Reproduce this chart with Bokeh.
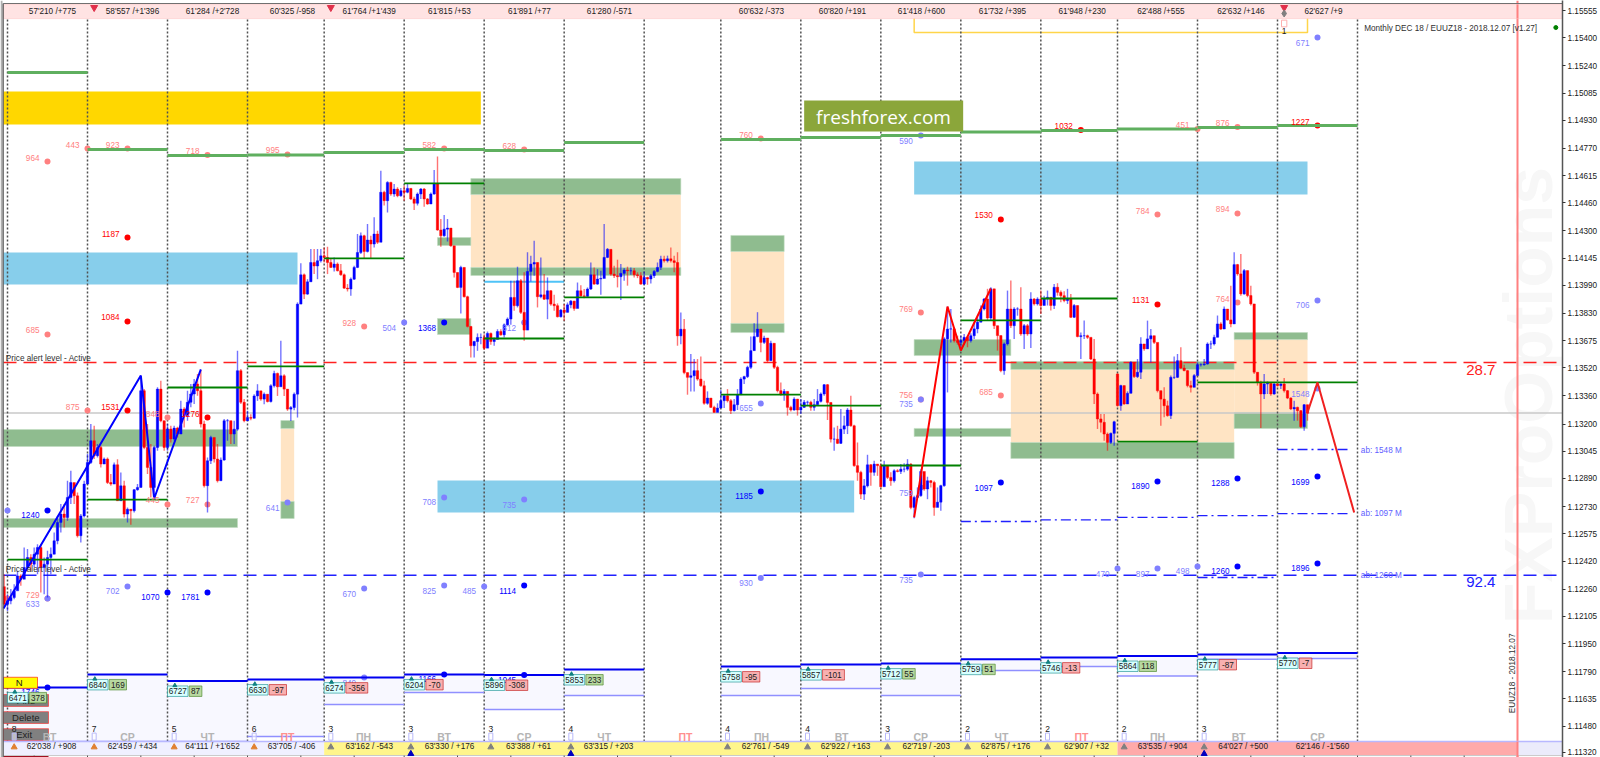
from math import pi
from bokeh.plotting import figure
from bokeh.models import ColumnDataSource, FixedTicker, PrintfTickFormatter, Label
from bokeh.core.properties import value
from bokeh.embed import file_html
from bokeh.resources import INLINE

# ---------- price data, in 1e-5 above 1.0 (13550 = 1.13550); first bar has index -1 ----------
CLOSE = [12174,12193,12212,12250,12335,12316,12383,12440,12402,12459,12497,12383,12402,12440,12459,12535,12640,12687,12668,12782,12867,12791,12564,12677,12858,
12981,13105,13020,13067,12972,13001,12867,12858,12968,12763,12848,12687,12715,12706,12826,12839,13390,13067,12953,12839,13067,13399,13219,13067,
13172,13115,13177,13143,13285,13248,13324,13371,13428,13390,13200,12849,12991,13124,13001,12877,12995,13219,13219,13143,13171,13504,13324,13219,
13237,13233,13360,13389,13342,13370,13328,13418,13488,13412,13475,13399,13285,13294,13370,13883,14050,13940,14010,14120,14100,14130,14158,
14149,14120,14092,14111,14073,14050,13974,13969,14025,14092,14177,14272,14183,14248,14225,14282,14235,14520,14472,14576,14510,14538,14500,14529,
14520,14542,14482,14457,14510,14538,14482,14453,14510,14567,14305,14272,14310,14316,14215,14063,13978,14092,13925,13756,13646,13670,13693,13693,
13632,13716,13670,13682,13727,13708,13765,13798,13921,13874,14016,13836,13735,14069,14111,14120,13925,13936,13911,13959,13883,13874,13811,13849,
13836,13879,13900,13858,13959,13930,13927,13969,14050,13997,14026,14029,14149,14195,14054,14045,14039,14058,14077,14073,14073,14050,14045,13997,
14035,14026,14045,14069,14092,14139,14130,14141,14130,14120,13702,13740,13493,13466,13475,13504,13456,13418,13318,13348,13295,13266,13291,
13333,13361,13333,13276,13310,13367,13456,13470,13523,13618,13698,13741,13665,13690,13561,13660,13523,13390,13371,13386,13295,13280,13342,13280,
13295,13324,13324,13295,13310,13329,13371,13424,13323,13114,13114,13090,13171,13190,13280,13190,12963,12925,12801,12848,12968,12925,12972,12963,
12843,12963,12896,12877,12934,12930,12943,12943,12972,12725,12782,12792,12930,12830,12877,12867,12725,12755,12849,13685,13741,13742,13675,13665,
13675,13694,13675,13703,13742,13780,13855,13912,13804,13970,13760,13704,13504,13656,13855,13760,13855,13855,13713,13760,13713,13912,13884,13912,
13875,13912,13922,13875,13979,13950,13931,13903,13912,13808,13875,13698,13703,13703,13694,13570,13371,13229,13210,13143,13095,13147,13213,
13305,13419,13314,13375,13551,13470,13495,13656,13628,13685,13703,13665,13390,13342,13304,13248,13466,13466,13561,13519,13504,13419,13409,13476,
13538,13538,13542,13656,13656,13694,13770,13741,13855,13793,13770,14108,14055,13941,14074,13932,13884,13495,13438,13371,13428,13432,13371,
13428,13419,13428,13390,13348,13286,13295,13276,13185,13310,13261]
HIGH = [12345,12231,12260,12288,12364,12345,12497,12488,12459,12497,12516,12516,12440,12478,12497,12582,12677,12744,12744,12877,12934,12858,12810,12687,12877,
13029,13200,13190,13086,13076,13010,13010,12915,12981,13000,12924,12877,12725,12716,12830,12858,13475,13400,13200,13086,13076,13409,13447,13219,
13200,13190,13190,13185,13333,13295,13390,13428,13457,13485,13508,13219,13010,13133,13124,13086,13010,13228,13228,13219,13219,13618,13513,13342,
13275,13256,13370,13427,13389,13379,13370,13427,13503,13493,13674,13484,13398,13303,13379,13893,14115,14058,14025,14197,14197,14197,14197,
14206,14210,14140,14149,14120,14111,14058,13997,14035,14101,14282,14291,14278,14339,14272,14377,14301,14643,14529,14582,14580,14567,14548,14544,
14557,14567,14544,14495,14519,14544,14544,14487,14519,14647,14723,14367,14390,14367,14316,14177,14063,14101,14092,13931,13756,13674,13716,13716,
13712,13727,13721,13693,13740,13740,13773,13807,14016,14016,14096,14026,14064,14178,14159,14244,14120,14149,14054,14035,13963,13936,13887,13855,
13883,13892,13906,13902,14006,13991,13969,13978,14120,14092,14082,14073,14339,14202,14191,14101,14136,14111,14088,14096,14092,14088,14064,14064,
14069,14039,14054,14077,14120,14159,14159,14159,14206,14159,14178,13835,13798,13494,13599,13570,13570,13584,13447,13386,13343,13304,13318,
13394,13371,13399,13343,13343,13399,13466,13475,13532,13698,13774,13837,13741,13703,13690,13675,13660,13532,13437,13399,13386,13304,13352,13343,
13343,13337,13333,13333,13343,13399,13380,13428,13428,13323,13181,13190,13285,13247,13291,13361,13196,13095,12934,12887,13025,12972,12991,12972,
12972,12991,12963,12925,12943,12943,12972,12976,13000,12976,12792,12839,12943,12919,12900,12881,12877,12839,12854,13694,13869,13855,13751,13703,
13703,13713,13703,13717,13780,13808,13875,13918,13970,13979,13970,13760,13704,13665,13960,14017,13865,13865,13979,13770,13770,13950,13918,13922,
13960,13931,13960,13922,13998,14002,13960,13956,13970,13941,13884,13875,13722,13789,13709,13660,13685,13380,13257,13257,13152,13152,13219,
13489,13424,13419,13386,13557,13551,13570,13694,13656,13789,13741,13703,13656,13390,13409,13333,13476,13584,13599,13637,13538,13508,13447,13485,
13551,13546,13570,13665,13675,13709,13818,13780,13869,13855,13988,14178,14112,14169,14083,14074,13988,13884,13495,13447,13485,13443,13432,
13437,13437,13432,13462,13394,13352,13333,13299,13280,13314,13310]
LOW = [12155,12136,12174,12202,12260,12279,12326,12383,12364,12383,12345,12240,12231,12212,12345,12459,12516,12582,12611,12649,12744,12744,12554,12525,12668,
12868,12972,13001,13010,12953,12991,12858,12849,12892,12763,12782,12668,12640,12626,12696,12820,12839,13057,12915,12782,12782,13048,13210,13048,
13048,13095,13105,13124,13143,13181,13219,13295,13314,13361,13181,12839,12696,12972,12981,12867,12877,12991,13105,13086,13086,13162,13314,13210,
13218,13222,13231,13332,13332,13313,13323,13323,13408,13360,13417,13360,13275,13218,13279,13237,13887,13912,13936,14010,14054,14025,14120,
14120,14054,14088,14069,14069,14045,13969,13955,13930,14020,14088,14168,14145,14177,14145,14206,14225,14254,14444,14405,14500,14495,14491,14495,
14472,14514,14476,14419,14444,14482,14438,14449,14457,14506,14301,14210,14267,14240,14210,14035,13974,13830,13921,13750,13579,13579,13617,13655,
13621,13655,13651,13646,13682,13703,13693,13760,13765,13845,13864,13826,13674,13740,14012,14045,13864,13917,13906,13797,13874,13845,13807,13807,
13788,13836,13860,13845,13889,13925,13917,13921,13963,13993,13993,13936,14031,14145,14045,14031,13978,13906,14016,13988,14050,14035,14031,13993,
13993,13993,14001,14031,14064,14077,14120,14120,14120,14064,13646,13655,13484,13367,13386,13386,13447,13413,13310,13310,13291,13266,13276,
13304,13291,13323,13257,13272,13280,13367,13428,13462,13513,13618,13694,13609,13656,13551,13561,13513,13380,13361,13333,13248,13272,13276,13248,
13257,13291,13304,13276,13276,13310,13323,13361,13223,13095,13048,13086,13086,13143,13143,13185,12957,12877,12773,12767,12839,12848,12905,12905,
12839,12925,12887,12848,12867,12925,12915,12925,12934,12715,12664,12782,12786,12820,12772,12839,12678,12740,12706,12843,13380,13665,13665,13652,
13618,13652,13637,13665,13685,13717,13780,13846,13789,13789,13741,13618,13495,13481,13647,13747,13685,13817,13703,13627,13703,13633,13875,13875,
13827,13884,13875,13846,13855,13931,13893,13893,13884,13804,13804,13694,13570,13685,13685,13565,13314,13172,13152,13105,13048,13086,13076,
13299,13276,13310,13367,13375,13462,13462,13457,13618,13628,13551,13656,13380,13190,13238,13242,13229,13457,13462,13513,13500,13409,13380,13437,
13513,13527,13532,13538,13627,13647,13694,13736,13741,13789,13751,13774,14045,13931,13937,13922,13875,13485,13419,13177,13342,13371,13361,
13367,13413,13400,13380,13342,13280,13219,13219,13177,13162,13219]
OPEN_GAPS = {333: 13485}

# ---------- session (day) boundaries, bar index ----------
DAY_BARS = [0,24,48,72,95,119,143,167,191,214,238,262,286,310,333,357,381,405]
LEVEL_MID   = [12428,12770,13408,13528,14143,14570,13687,13921,None,13368,13305,12964,13790,13915,13100,13437,13437]
LEVEL_UPPER = [15202,14763,14729,14732,14746,14763,14758,14803,None,14820,14832,14843,14863,14872,14880,14889,14900]
LEVEL_BLUE  = [11700,11774,11737,11745,11756,11774,11771,11802,None,11819,11830,11836,11861,11870,11879,11888,11896]
LEVEL_BLUE2 = [11392,11392,11392,11420,11603,11671,11574,11654,None,11654,11694,11654,11796,11819,11765,11861,11865]
BOX_A = [6471,6840,6727,6630,6274,6204,5896,5853,None,5758,5857,5712,5759,5746,5864,5777,5770]
BOX_B = [378,169,87,-97,-356,-70,-308,233,None,-95,-101,55,51,-13,118,-87,-7]
COUNTS = ["8","7","5","6","3","3","3","4",None,"4","4","3","2","2","2","3",None]

TOP_TEXT = ["57'210 /+775","58'557 /+1'396","61'284 /+2'728","60'325 /-958","61'764 /+1'439","61'815 /+53","61'891 /+77","61'280 /-571",
            "60'632 /-373","60'820 /+191","61'418 /+600","61'732 /+395","61'948 /+230","62'488 /+555","62'632 /+146","62'627 /+9"]
TOP_BAR = [13.5,37.5,61.5,85.5,108.5,132.6,156.6,180.6,226.2,250.5,274.2,298.5,322.4,346,370,394.8]
BOT_TEXT = ["62'038 / +908","62'459 / +434","64'111 / +1'652","63'705 / -406","63'162 / -543","63'330 / +176","63'388 / +61","63'315 / +203",
            "62'761 / -549","62'922 / +163","62'719 / -203","62'875 / +176","62'907 / +32","63'535 / +904","64'027 / +500","62'146 / -1'560"]
BOT_BAR = [13.2,37.5,61.5,85.2,108.5,132.6,156.3,180.3,227.4,251.4,275.6,299.4,323.7,346.5,370.7,394.5]
DAY_NAME = ["ВТ","СР","ЧТ","ПТ","ПН","ВТ","СР","ЧТ","ПТ","ПН","ВТ","СР","ЧТ","ПТ","ПН","ВТ","СР"]
DAY_NAME_BAR = [12.6,36,60,84,106.8,131,155,179,203.4,226.2,250.2,274,298.2,322.2,345,369.3,393]

# ---------- zones: bar start, bar end, price low, price high ----------
GOLD = [(-1.2,142,14906,15094)]
SKY = [(-1.2,87,13995,14177),(129,254,12696,12878),(272,390,14507,14695)]
GREEN = [(-1.2,69,13072,13169),(-1.2,69,12611,12662),(82,86,13175,13220),(82,86,12662,12759),(129,139,14217,14262),(129,139,13710,13801),
         (139,202,14507,14598),(139,202,14046,14091),(217,233,14183,14274),(217,233,13721,13773),(272,301,13590,13681),(272,301,13129,13175),
         (301,368,13511,13556),(301,368,13004,13095),(368,390,13681,13721),(368,390,13175,13266)]
TAN = [(82,86,12759,13175),(139,202,14091,14507),(217,233,13773,14183),(301,368,13095,13511),(368,390,13266,13681)]

# ---------- dots: bar, price, label ----------
DOTS_LR = [(12,14695,"964"),(24,14769,"443"),(36,14769,"923"),(60,14732,"718"),(84,14735,"995"),(131,14769,"582"),(155,14763,"628"),(226,14826,"760"),
           (357,14880,"451"),(369,14892,"876"),(345,14393,"784"),(369,14399,"894"),(369,13892,"764"),(274,13835,"769"),(274,13340,"756"),(298,13362,"685"),
           (24,13277,"875"),(48,13237,"848"),(48,12742,"445"),(60,12742,"727"),(107,13755,"928"),(12,12206,"729"),(0,12206,""),(12,13710,"685")]
DOTS_R = [(36,14262,"1187"),(36,13784,"1084"),(322,14874,"1032"),(393,14900,"1227"),(298,14365,"1530"),(345,13881,"1131"),(36,13277,"1531"),(60,13237,"1276")]
DOTS_LB = [(274,14843,"590"),(393,15401,"671"),(393,13904,"706"),(274,13340,"735"),(274,12838,"759"),(393,13402,"1548"),(357,12389,"498"),(345,12377,"897"),
           (333,12377,"470"),(274,12343,"735"),(226,12323,"930"),(143,12275,"485"),(131,12280,"825"),(107,12263,"670"),(36,12275,"702"),(84,12753,"641"),
           (119,13778,"504"),(155,13778,"812"),(131,12782,"708"),(155,12770,"735"),(226,13317,"655"),(12,12206,"633"),(0,12708,""),(107,11756,"849")]
DOTS_B = [(131,13778,"1368"),(226,12816,"1185"),(298,12867,"1097"),(345,12873,"1890"),(369,12890,"1288"),(393,12901,"1699"),(393,12406,"1896"),(369,12389,"1260"),
          (155,12280,"1114"),(60,12241,"1781"),(48,12241,"1070"),(12,12708,"1240"),(12,11700,"1746"),(131,11774,"1166"),(155,11771,"1045")]

ZIG_BLUE = ([-1.2,40,44,58],[12149,13476,12776,13511])
ZIG_RED1 = ([272,282,286,295],[12668,13869,13619,13972])
ZIG_RED2 = ([390,393,404],[13266,13437,12696])
AB_SEGS = [(286,310,12645),(310,333,12654),(333,357,12669),(357,381,12679),(381,403,12690),(381,403,13055),(357,381,12326)]
AB_TEXT = [("ab: 1548 M",13049),("ab: 1097 M",12690),("ab: 1260 M",12337)]
Y_TICKS = [1.15555,1.15400,1.15240,1.15085,1.14930,1.14770,1.14615,1.14460,1.14300,1.14145,1.13990,1.13830,1.13675,1.13520,
           1.13360,1.13200,1.13045,1.12890,1.12730,1.12575,1.12420,1.12260,1.12105,1.11950,1.11790,1.11635,1.11480,1.11332]
ALERT_RED, ALERT_BLUE, LAST_PRICE = 13550, 12339, 13263

FONT = "Liberation Sans"
FS = 8.2
def P(v): return 1 + v / 1e5
BARS_PER_PX = 1 / 3.3333     # 80 px per 24-bar session
V_PER_PX = 5.695             # price units per pixel
RIGHT_BAR = 466.5
LEFT_BAR = -2.1

p = figure(width=1600, height=757, x_range=(LEFT_BAR, RIGHT_BAR), y_range=(1.11301, 1.15612),
           x_axis_type=None, y_axis_location="right", toolbar_location=None, output_backend="svg",
           min_border_left=0, min_border_top=0, min_border_bottom=0, min_border_right=38,
           background_fill_color="white", border_fill_color="white", outline_line_color=None)
p.grid.visible = False
ax = p.yaxis[0]
ax.ticker = FixedTicker(ticks=Y_TICKS)
ax.formatter = PrintfTickFormatter(format="%.5f")
ax.major_label_overrides = {1.11332: "1.11320"}
ax.major_label_text_font = FONT
ax.major_label_text_font_size = f"{FS}px"
ax.major_label_text_color = "#202020"
ax.major_tick_in = 0; ax.major_tick_out = 3; ax.minor_tick_out = 0; ax.minor_tick_in = 0
ax.major_label_standoff = 2
ax.axis_line_color = "#555555"; ax.major_tick_line_color = "#333333"; ax.axis_line_width = 1.5

def quads(rows, color, alpha=1.0, line=None):
    d = dict(l=[r[0] for r in rows], r=[r[1] for r in rows], b=[P(r[2]) for r in rows], t=[P(r[3]) for r in rows])
    p.quad(left="l", right="r", bottom="b", top="t", source=ColumnDataSource(d), fill_color=color, fill_alpha=alpha,
           line_color=line if line else color, line_alpha=0.6 if line else 0, line_width=1)

def texts(xs, ys, labels, color="#202020", size=FS, align="center", base="middle", bold=False, font=FONT, dx=None, dy=None, angle=0):
    d = dict(x=xs, y=[P(v) for v in ys], t=labels, dx=dx or [0]*len(xs), dy=dy or [0]*len(xs))
    p.text(x="x", y="y", text="t", x_offset="dx", y_offset="dy", source=ColumnDataSource(d), text_color=color,
           text_font=value(font), text_font_size=f"{size}px", text_align=align, text_baseline=base,
           text_font_style="bold" if bold else "normal", angle=angle)

# watermark
texts([456], [13363], ["FXProOptions"], color="#F7F7F7", size=68, font="Liberation Sans", bold=True, angle=pi/2)

# zones
quads(GOLD, "#FFD700")
quads(SKY, "#87CEEB")
quads(TAN, "#FFE4C4")
quads(GREEN, "#8FBC8F", line="#C0DCC0")
p.segment([143], [P(14010)], [167], [P(14010)], line_color="#4FC3F7", line_width=2)

# lavender session panels
for i, (a, b) in enumerate(zip(DAY_BARS[:-1], DAY_BARS[1:])):
    if LEVEL_BLUE[i] is None: continue
    left = -1.2 if i == 0 else a
    p.quad(left=left, right=b, bottom=P(LEVEL_BLUE2[i]), top=P(LEVEL_BLUE[i]), fill_color="#F8F8FF", line_alpha=0)

# current price, alert levels
p.segment([-1.2], [P(LAST_PRICE)], [RIGHT_BAR], [P(LAST_PRICE)], line_color="#C8C8C8", line_width=1.5)
p.segment([-1.2], [P(ALERT_RED)], [RIGHT_BAR], [P(ALERT_RED)], line_color="#FF2020", line_width=1.5, line_dash="13 7")
p.segment([-1.2], [P(ALERT_BLUE)], [RIGHT_BAR], [P(ALERT_BLUE)], line_color="#2020FF", line_width=1.5, line_dash="13 7")

# yellow frame
p.line([272, 272, 390, 390], [P(15580), P(15430), P(15430), P(15580)], line_color="#FFD54A", line_width=1.5)

# session dividers
p.segment(DAY_BARS, [P(11392)]*18, DAY_BARS, [P(15509)]*18, line_color="#505050", line_width=1.5, line_dash="2 2")

# red vertical
p.segment([453], [P(11301)], [453], [P(15612)], line_color="#FF8080", line_width=2)

# dots
for rows, col in ((DOTS_LR, "#FF8080"), (DOTS_R, "#FF0000"), (DOTS_LB, "#8080FF"), (DOTS_B, "#0000FF")):
    p.scatter([r[0] for r in rows], [P(r[1]) for r in rows], size=6, color=col, line_alpha=0)

# candles
n = len(CLOSE)
assert n == len(HIGH) == len(LOW), (n, len(HIGH), len(LOW))
idx = list(range(-1, n - 1))
opens = [CLOSE[0] + 100] + CLOSE[:-1]
opens = [OPEN_GAPS.get(i, o) for i, o in zip(idx, opens)]
cols = ["#0000FF" if c >= o else "#FF0000" for c, o in zip(CLOSE, opens)]
src = ColumnDataSource(dict(x=idx, o=[P(v) for v in opens], c=[P(v) for v in CLOSE], h=[P(v) for v in HIGH], l=[P(v) for v in LOW], col=cols))
p.segment(x0="x", y0="l", x1="x", y1="h", source=src, line_color="col", line_width=1.4, line_alpha=0.55)
p.vbar(x="x", bottom="o", top="c", width=0.72, source=src, fill_color="col", line_color="col", line_width=0.4)

# green daily levels
for i, (a, b) in enumerate(zip(DAY_BARS[:-1], DAY_BARS[1:])):
    if LEVEL_MID[i] is not None:
        p.segment([a], [P(LEVEL_MID[i])], [b], [P(LEVEL_MID[i])], line_color="#008000", line_width=1.8)
    if LEVEL_UPPER[i] is not None:
        p.segment([a], [P(LEVEL_UPPER[i])], [b], [P(LEVEL_UPPER[i])], line_color="#5FAF5F", line_width=3)
    if LEVEL_BLUE[i] is not None:
        left = -1.2 if i == 0 else a
        p.segment([left], [P(LEVEL_BLUE2[i])], [b], [P(LEVEL_BLUE2[i])], line_color="#9090FF", line_width=1.5)
        p.segment([left], [P(LEVEL_BLUE[i])], [b], [P(LEVEL_BLUE[i])], line_color="#0000F0", line_width=2)

# zigzags
p.line(ZIG_BLUE[0], [P(v) for v in ZIG_BLUE[1]], line_color="#0000FF", line_width=2)
p.line(ZIG_RED1[0], [P(v) for v in ZIG_RED1[1]], line_color="#FF0000", line_width=2)
p.line(ZIG_RED2[0], [P(v) for v in ZIG_RED2[1]], line_color="#F02020", line_width=2)

# ab lines
for a, b, v in AB_SEGS:
    p.segment([a], [P(v)], [b], [P(v)], line_color="#2020FF", line_width=1.3, line_dash="10 4 2 4")
texts([406]*3, [r[1] for r in AB_TEXT], [r[0] for r in AB_TEXT], color="#6060FF", align="left")

# dot labels
for rows, col, off in ((DOTS_LR, "#FF8080", -4), (DOTS_R, "#FF0000", -4), (DOTS_LB, "#8080FF", 5), (DOTS_B, "#0000FF", 5)):
    texts([r[0] for r in rows], [r[1] for r in rows], [r[2] for r in rows], color=col, align="right",
          dx=[-8]*len(rows), dy=[off]*len(rows))

# text notes
texts([-0.5, -0.5], [13574, 12370], ["Price alert level - Active", "Price alert level - Active"], align="left", color="#303030")
texts([442], [13509], ["28.7"], color="#FF2020", size=15, font="Liberation Sans")
texts([442], [12298], ["92.4"], color="#2020FF", size=15, font="Liberation Sans")
texts([407], [15452], ["Monthly DEC 18 / EUUZ18 - 2018.12.07 [v1.27]"], align="left", color="#303030")
p.scatter([464.5], [P(15458)], size=4, color="#008000")
texts([451.5], [11780], ["EUUZ18 - 2018.12.07"], color="#303030", angle=pi/2)

# brand badge
quads([(239,286.7,14866,15043)], "#8BA63A")
texts([262.8], [14950], ["freshforex.com"], color="white", size=19, font="Open Sans")

# buttons
quads([(-1.2,9,11695,11758)], "#FFFF00", line="#FF0000")
for lo, hi in ((11592,11660),(11495,11562),(11398,11465)):
    quads([(-1.2,12.3,lo,hi)], "#808080", line="#FF2020")
texts([3.5], [11728], ["N"], size=9.5, font="Liberation Sans")
texts([5.5,5.5,5], [11626,11530,11432], ["Find","Delete","Exit"], size=9.5, font="Liberation Sans")

# session value boxes
for i, a in enumerate(DAY_BARS[:-1]):
    if BOX_A[i] is None: continue
    top = LEVEL_BLUE[i] - 5 * V_PER_PX
    bot = top - 10.5 * V_PER_PX
    xa = a; xb = a + 20.5 * BARS_PER_PX
    s = str(BOX_B[i])
    xc = xb + 1.2 * BARS_PER_PX; xd = xc + (len(s) * 4.6 + 3.5) * BARS_PER_PX
    quads([(xa, xb, bot, top)], "#D8FFFF", line="#108C8C")
    good = BOX_B[i] >= 0
    quads([(xc, xd, bot, top)], "#B8D8A0" if good else "#F8B0B0", line="#408020" if good else "#C01010")
    texts([(xa+xb)/2, (xc+xd)/2], [(top+bot)/2]*2, [str(BOX_A[i]), s])
    p.scatter([a + 2.2], [P(top + 0.5*V_PER_PX)], marker="triangle", size=4, color="#108080")

# top strip
quads([(-1.2, RIGHT_BAR, 15509, 15589)], "#FFE3E3", line="#FFC8C8")
p.segment([453], [P(15509)], [453], [P(15589)], line_color="#FF8080", line_width=2)
texts(TOP_BAR, [15549]*len(TOP_BAR), TOP_TEXT, color="#202020")
p.scatter([26, 97, 383], [P(15572)]*3, marker="inverted_triangle", size=7, color="#E0304A")
p.scatter([383], [P(15538)], marker="diamond", size=7, color="#808080")
p.quad(left=[382.2], right=[383.8], bottom=[P(15462)], top=[P(15500)], fill_color="white", line_color="#FFB0B0")
texts([383], [15440], ["1"], size=8.5)

# bottom strip
for a, b, c in ((-1.2,95,"#F0F0FF"),(95,333,"#FFF58C"),(333,453,"#FFAAAA"),(453,RIGHT_BAR,"#EBEBFB")):
    quads([(a, b, 11312, 11392)], c)
p.segment([-1.2], [P(11392)], [RIGHT_BAR], [P(11392)], line_color="#B8B8FF", line_width=1.5)
p.segment([-1.2], [P(11312)], [RIGHT_BAR], [P(11312)], line_color="#C8C8C8", line_width=1)
p.segment([453], [P(11301)], [453], [P(11392)], line_color="#FF8080", line_width=2)
# time ticks below the strip (every 16 bars) and the small dark-red mark under the buttons
TIME_TICKS = [8,24,40,56,72,88,104,119,135,151,167,183,199,214,230,246,262,278,294,310,326,341,357,373,389,405,421,437]
p.segment(TIME_TICKS, [P(11312)]*len(TIME_TICKS), TIME_TICKS, [P(11301)]*len(TIME_TICKS), line_color="#505050", line_width=1)
p.quad(left=[-1.2], right=[12.3], bottom=[P(11301)], top=[P(11310)], fill_color="#A01020", line_alpha=0)
texts(BOT_BAR, [11364]*len(BOT_BAR), BOT_TEXT, color="#202020")
greys = [k for k in range(len(DAY_NAME)) if DAY_NAME[k] != "ПТ"]
texts([DAY_NAME_BAR[k] for k in greys], [11420]*len(greys), [DAY_NAME[k] for k in greys], color="#B4B4B4", size=10.5, bold=True, font="Liberation Sans")
reds = [k for k in range(len(DAY_NAME)) if DAY_NAME[k] == "ПТ"]
texts([DAY_NAME_BAR[k] for k in reds], [11420]*len(reds), ["ПТ"]*len(reds), color="#FF9090", size=10.5, bold=True, font="Liberation Sans")
cnt = [k for k, c in enumerate(COUNTS) if c]
cx = [DAY_BARS[k] + 2 for k in cnt]
texts(cx, [11462]*len(cnt), [COUNTS[k] for k in cnt], size=8.5)
p.quad(left=[x-0.6 for x in cx], right=[x+0.6 for x in cx], bottom=[P(11400)]*len(cx), top=[P(11440)]*len(cx), fill_color="white", fill_alpha=0.5, line_color="#B8B8F8")
p.scatter(cx, [P(11360)]*len(cx), marker="triangle", size=6,
          color=["#E08030" if k < 4 else "#808080" for k in cnt])
blue_mark = [cx[j] for j, k in enumerate(cnt) if k in (5, 7, 15)]
p.scatter(blue_mark, [P(11322)]*len(blue_mark), marker="triangle", size=6, color="#0000C0")

# window frame
p.quad(left=[LEFT_BAR], right=[-1.5], bottom=[P(11301)], top=[P(15612)], fill_color="#B0B0B0", line_alpha=0)
p.segment([-1.3], [P(11301)], [-1.3], [P(15595)], line_color="#505050", line_width=1.2)
p.segment([-1.3], [P(15595)], [RIGHT_BAR], [P(15595)], line_color="#707070", line_width=1.2)

# price tags on the axis
for v, bg, lab in ((ALERT_RED, "#FF0000", "1.13550"), (LAST_PRICE, "#000000", "1.13263"), (ALERT_BLUE, "#0000FF", "1.12339")):
    p.add_layout(Label(x=1565, y=P(v), x_units="screen", y_units="data", text=lab, text_color="white",
                       text_font=FONT, text_font_size=f"{FS}px", text_baseline="middle", background_fill_color=bg,
                       padding=1))

open("out.html", "w").write(file_html(p, INLINE))
